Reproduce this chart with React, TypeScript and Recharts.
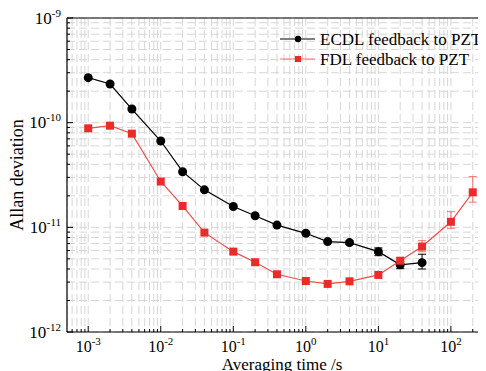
import React from 'react';
import {
  LineChart,
  Line,
  XAxis,
  YAxis,
  CartesianGrid,
  ErrorBar,
  ReferenceLine,
  Legend,
} from 'recharts';

const SERIF = '"Times New Roman", "Liberation Serif", "DejaVu Serif", serif';

// averaging time, s
const tau = [0.001, 0.002, 0.004, 0.01, 0.02, 0.04, 0.1, 0.2, 0.4, 1, 2, 4, 10, 20, 40, 100, 200];

const ecdl = [
  2.69e-10, 2.34e-10, 1.35e-10, 6.68e-11, 3.4e-11, 2.28e-11, 1.58e-11, 1.29e-11, 1.05e-11,
  8.77e-12, 7.31e-12, 7.15e-12, 5.86e-12, 4.38e-12, 4.6e-12, null, null,
];
const ecdlErrLow = [0, 0, 0, 0, 0, 0, 0, 0, 0, 0, 0, 0.3e-12, 0.5e-12, 0.35e-12, 0.6e-12, 0, 0];
const ecdlErrHigh = [0, 0, 0, 0, 0, 0, 0, 0, 0, 0, 0, 0.3e-12, 0.5e-12, 0.35e-12, 0.93e-12, 0, 0];

const fdl = [
  8.83e-11, 9.36e-11, 7.85e-11, 2.74e-11, 1.6e-11, 8.9e-12, 5.86e-12, 4.64e-12, 3.56e-12,
  3.07e-12, 2.88e-12, 3.05e-12, 3.51e-12, 4.8e-12, 6.55e-12, 1.13e-11, 2.16e-11,
];
const fdlErrLow = [0, 0, 0, 0, 0, 0, 0, 0, 0, 0, 0, 0, 0, 0.3e-12, 0.7e-12, 1.5e-12, 4.2e-12];
const fdlErrHigh = [0, 0, 0, 0, 0, 0, 0, 0, 0, 0, 0, 0, 0, 0.3e-12, 0.9e-12, 2.8e-12, 8.9e-12];

const xTicks = [
  6e-4, 7e-4, 8e-4, 9e-4,
  1e-3, 2e-3, 3e-3, 4e-3, 5e-3, 6e-3, 7e-3, 8e-3, 9e-3,
  1e-2, 2e-2, 3e-2, 4e-2, 5e-2, 6e-2, 7e-2, 8e-2, 9e-2,
  1e-1, 2e-1, 3e-1, 4e-1, 5e-1, 6e-1, 7e-1, 8e-1, 9e-1,
  1, 2, 3, 4, 5, 6, 7, 8, 9,
  10, 20, 30, 40, 50, 60, 70, 80, 90,
  100, 200,
];

const yTicks = [
  1e-12, 2e-12, 3e-12, 4e-12, 5e-12, 6e-12, 7e-12, 8e-12, 9e-12,
  1e-11, 2e-11, 3e-11, 4e-11, 5e-11, 6e-11, 7e-11, 8e-11, 9e-11,
  1e-10, 2e-10, 3e-10, 4e-10, 5e-10, 6e-10, 7e-10, 8e-10, 9e-10,
  1e-9,
];

const xDomain = [5.1e-4, 295];
const yDomain = [1e-12, 1e-9];

const data = tau.map((t, i) => {
  const e = (lo: number, hi: number) => (lo || hi ? [lo, hi] : null);
  return {
    tau: t,
    ecdl: ecdl[i],
    fdl: fdl[i],
    ecdlErr: ecdl[i] == null ? null : e(ecdlErrLow[i], ecdlErrHigh[i]),
    fdlErr: e(fdlErrLow[i], fdlErrHigh[i]),
  };
});

const RED = '#ec2a2a';
const RED_LINE = '#f24b4b';

const decade = (v: number) => {
  const l = Math.log10(v);
  const e = Math.round(l);
  return { e, major: Math.abs(l - e) < 1e-6 };
};

const XTick = (props: any) => {
  const { x, y, payload } = props;
  const { e, major } = decade(payload.value);
  return (
    <g>
      <line x1={x} x2={x} y1={y} y2={y - (major ? 6 : 3)} stroke="#000" strokeWidth={1} />
      {major && (
        <text x={x} y={y + 20} textAnchor="middle" style={{ fontFamily: SERIF }} fontSize={16} fill="#000">
          10
          <tspan dy={-7} fontSize={11}>
            {`${e}`}
          </tspan>
        </text>
      )}
    </g>
  );
};

const YTick = (props: any) => {
  const { x, y, payload } = props;
  const { e, major } = decade(payload.value);
  return (
    <g>
      <line x1={x} x2={x + (major ? 6 : 3)} y1={y} y2={y} stroke="#000" strokeWidth={1} />
      {major && (
        <text x={x - 6} y={y + 5.5} textAnchor="end" style={{ fontFamily: SERIF }} fontSize={17} fill="#000">
          10
          <tspan dy={-7} fontSize={11}>
            {`${e}`}
          </tspan>
        </text>
      )}
    </g>
  );
};

const Square = (props: any) => {
  const { cx, cy, index } = props;
  if (cx == null || cy == null) return <g key={index} />;
  return <rect key={index} x={cx - 4} y={cy - 4} width={8} height={8} fill={RED} />;
};

const LegendBox = () => (
  <svg width={208} height={44} style={{ display: 'block' }}>
    <line x1={2} x2={37} y1={11} y2={11} stroke="#000" strokeWidth={1.2} />
    <circle cx={20} cy={11} r={3.2} fill="#000" />
    <text x={42} y={17} style={{ fontFamily: SERIF }} fontSize={17} fill="#000">
      ECDL feedback to PZT
    </text>
    <line x1={2} x2={37} y1={31} y2={31} stroke="#f37070" strokeWidth={1.2} />
    <rect x={17} y={28} width={6} height={6} fill={RED} />
    <text x={42} y={37} style={{ fontFamily: SERIF }} fontSize={17} fill="#000">
      FDL feedback to PZT
    </text>
  </svg>
);

export default function App() {
  return (
    <LineChart width={478} height={363} data={data} margin={{ top: 10, right: 1, left: 0, bottom: 0 }}>
      <CartesianGrid stroke="#d6d6d6" strokeDasharray="8 4" strokeWidth={1} />
      <XAxis
        dataKey="tau"
        type="number"
        scale="log"
        domain={xDomain}
        ticks={xTicks}
        interval={0}
        allowDataOverflow
        tickSize={0}
        tickMargin={0}
        tick={<XTick />}
        height={39}
        axisLine={{ stroke: '#000', strokeWidth: 1.2 }}
        label={{
          value: 'Averaging time /s',
          content: (p: any) => {
            const vb = p.viewBox || { x: 59, y: 324, width: 418 };
            return (
              <text x={vb.x + vb.width / 2 + 6} y={vb.y + 38} textAnchor="middle" style={{ fontFamily: SERIF }} fontSize={17} fill="#000">
                Averaging time /s
              </text>
            );
          },
        }}
      />
      <YAxis
        type="number"
        scale="log"
        domain={yDomain}
        ticks={yTicks}
        interval={0}
        allowDataOverflow
        tickSize={0}
        tickMargin={0}
        tick={<YTick />}
        width={59}
        axisLine={{ stroke: '#000', strokeWidth: 1.2 }}
        label={{
          value: 'Allan deviation',
          content: (p: any) => {
            const vb = p.viewBox || { x: 0, y: 10, height: 314 };
            const cy = vb.y + vb.height / 2;
            return (
              <text x={15} y={cy} transform={`rotate(-90 15 ${cy})`} textAnchor="middle" style={{ fontFamily: SERIF }} fontSize={18} fill="#000">
                Allan deviation
              </text>
            );
          },
        }}
      />
      <ReferenceLine y={1e-9} stroke="#000" strokeWidth={1.2} />
      <ReferenceLine x={295} stroke="#000" strokeWidth={1.2} />
      <Legend
        content={<LegendBox />}
        layout="horizontal"
        verticalAlign="middle"
        align="center"
        wrapperStyle={{ top: 20, left: 270, width: 208 }}
      />
      <Line
        dataKey="ecdl"
        stroke="#000"
        strokeWidth={1.2}
        dot={{ r: 4.5, fill: '#000', stroke: '#000', strokeWidth: 0 }}
        activeDot={false}
        isAnimationActive={false}
      >
        <ErrorBar dataKey="ecdlErr" width={4} stroke="#000" strokeWidth={1} direction="y" />
      </Line>
      <Line
        dataKey="fdl"
        stroke={RED_LINE}
        strokeWidth={1.2}
        dot={<Square />}
        activeDot={false}
        isAnimationActive={false}
      >
        <ErrorBar dataKey="fdlErr" width={4} stroke="#f37070" strokeWidth={1} direction="y" />
      </Line>
    </LineChart>
  );
}
